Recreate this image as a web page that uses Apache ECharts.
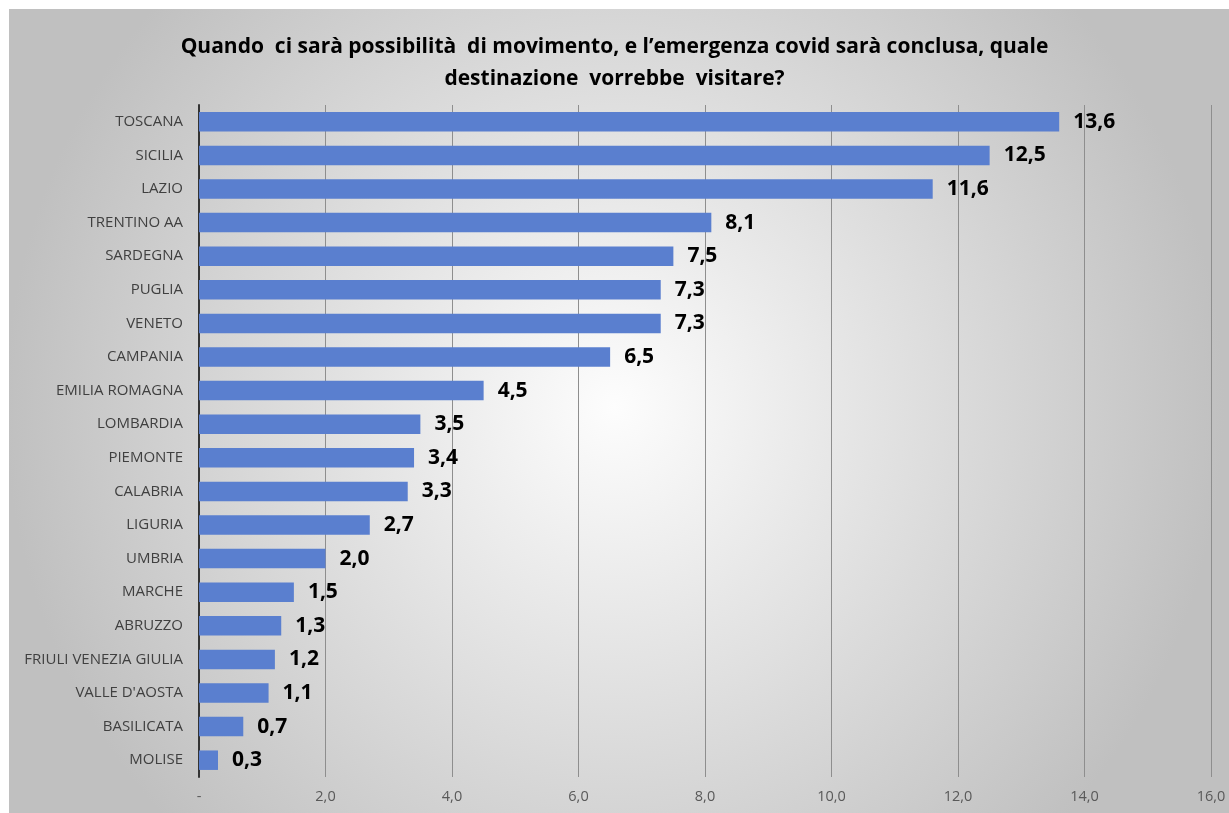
<!DOCTYPE html>
<html>
<head>
<meta charset="utf-8">
<script src="https://cdn.jsdelivr.net/npm/echarts@6/dist/echarts.min.js"></script>
<style>
html,body{margin:0;padding:0;background:#fff;}
#c{width:1229px;height:813px;}
</style>
</head>
<body>
<div id="c"></div>
<script>
const titleText = "Quando  ci sarà possibilità  di movimento, e l’emergenza covid sarà conclusa, quale\ndestinazione  vorrebbe  visitare?";
const categories = ["TOSCANA","SICILIA","LAZIO","TRENTINO AA","SARDEGNA","PUGLIA","VENETO","CAMPANIA","EMILIA ROMAGNA","LOMBARDIA","PIEMONTE","CALABRIA","LIGURIA","UMBRIA","MARCHE","ABRUZZO","FRIULI VENEZIA GIULIA","VALLE D'AOSTA","BASILICATA","MOLISE"];
const values = [13.6,12.5,11.6,8.1,7.5,7.3,7.3,6.5,4.5,3.5,3.4,3.3,2.7,2.0,1.5,1.3,1.2,1.1,0.7,0.3];
const xTicks = [0,2,4,6,8,10,12,14,16];

const fmt = v => v === 0 ? '-' : v.toFixed(1).replace('.', ',');

const chart = echarts.init(document.getElementById('c'));
chart.setOption({
  backgroundColor: {
    type: 'radial', x: 0.5, y: 0.5, r: 0.75,
    colorStops: [{offset: 0, color: '#fdfdfd'}, {offset: 1, color: '#c0c0c0'}]
  },
  graphic: [
    {type: 'rect', left: 0, top: 0, shape: {width: 1229, height: 9}, style: {fill: '#ffffff'}, silent: true},
    {type: 'rect', left: 0, top: 0, shape: {width: 9, height: 813}, style: {fill: '#ffffff'}, silent: true}
  ],
  title: {
    text: titleText,
    left: 'center', top: 26,
    textStyle: {fontFamily: 'Open Sans', fontWeight: 'bold', fontSize: 21, color: '#000', lineHeight: 32}
  },
  grid: {left: 199, right: 18, top: 105, bottom: 36, containLabel: false},
  xAxis: {
    type: 'value', min: 0, max: 16, interval: 2,
    axisLine: {show: false}, axisTick: {show: false},
    splitLine: {show: true, lineStyle: {color: '#8e8e8e', width: 1}},
    axisLabel: {formatter: v => fmt(v), color: '#595959', fontFamily: 'Open Sans', fontSize: 14.5, margin: 12}
  },
  yAxis: {
    type: 'category', data: categories, inverse: true,
    axisLine: {show: true, lineStyle: {color: '#333', width: 2}},
    axisTick: {show: false},
    axisLabel: {color: '#404040', fontFamily: 'Open Sans', fontSize: 15, margin: 16}
  },
  series: [{
    type: 'bar', data: values, barCategoryGap: '42%',
    itemStyle: {color: '#5a7fcf'},
    label: {show: true, position: 'right', distance: 14, formatter: p => fmt(p.value),
      color: '#000', fontFamily: 'Open Sans', fontWeight: 'bold', fontSize: 21}
  }]
});
</script>
</body>
</html>
